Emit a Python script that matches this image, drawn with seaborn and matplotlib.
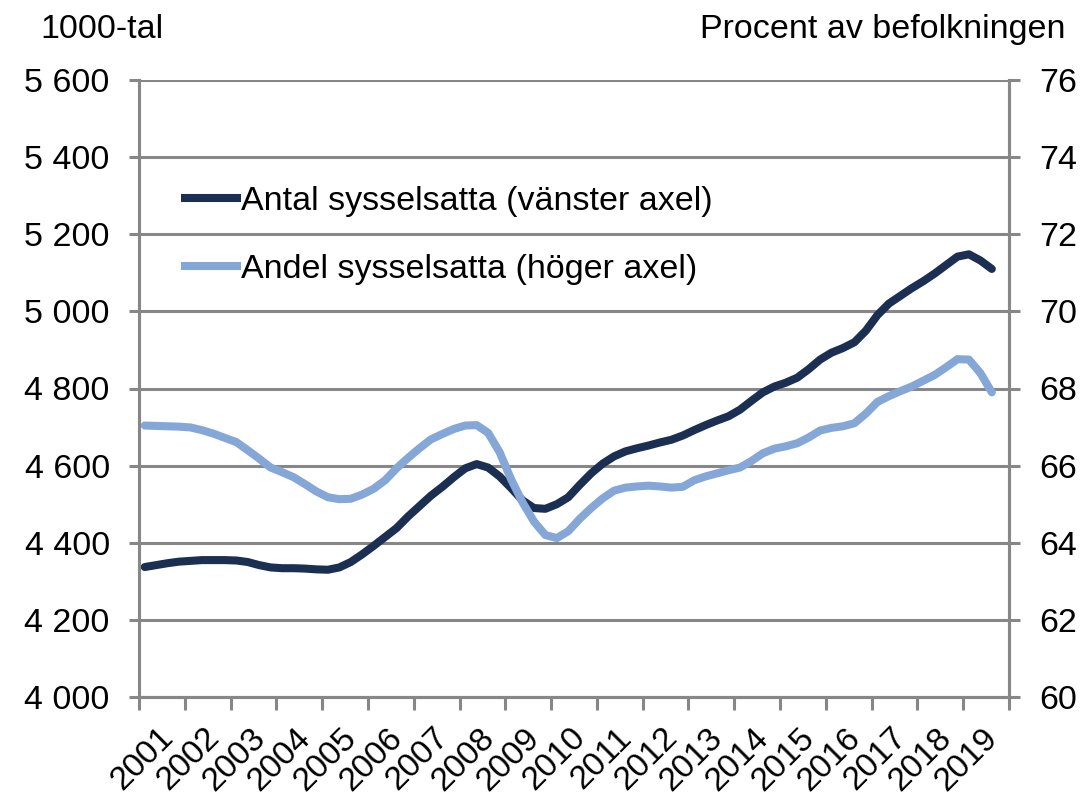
import numpy as np
import pandas as pd
import matplotlib
matplotlib.use("Agg")
import matplotlib.pyplot as plt
import seaborn as sns

# ---- data (quarterly, 2001Q1 .. 2019Q3) ----
years = [str(y) for y in range(2001, 2020)]
antal = [4337, 4342, 4347, 4351, 4353, 4355, 4355, 4355, 4354, 4350,
         4342, 4336, 4334, 4334, 4333, 4331, 4330, 4336, 4350, 4370,
         4392, 4415, 4438, 4468, 4495, 4522, 4545, 4570, 4593, 4604,
         4595, 4572, 4542, 4510, 4490, 4488, 4500, 4518, 4550, 4580,
         4605, 4624, 4637, 4645, 4652, 4660, 4667, 4678, 4692, 4705,
         4717, 4728, 4745, 4768, 4790, 4805, 4815, 4828, 4850, 4875,
         4893, 4905, 4920, 4950, 4990, 5020, 5040, 5060, 5078, 5098,
         5120, 5142, 5148, 5132, 5110]
andel = [67.04, 67.03, 67.02, 67.01, 66.99, 66.92, 66.83, 66.72, 66.61, 66.40,
         66.18, 65.95, 65.83, 65.70, 65.52, 65.33, 65.18, 65.13, 65.14, 65.25,
         65.40, 65.62, 65.93, 66.20, 66.45, 66.68, 66.82, 66.95, 67.04, 67.05,
         66.85, 66.35, 65.65, 65.05, 64.55, 64.20, 64.12, 64.30, 64.62, 64.90,
         65.15, 65.35, 65.43, 65.46, 65.48, 65.46, 65.43, 65.45, 65.62, 65.72,
         65.80, 65.88, 65.95, 66.12, 66.32, 66.44, 66.50, 66.58, 66.73, 66.91,
         66.98, 67.02, 67.10, 67.35, 67.65, 67.80, 67.93, 68.05, 68.20, 68.35,
         68.55, 68.76, 68.75, 68.40, 67.90]
left_ticks = [4000, 4200, 4400, 4600, 4800, 5000, 5200, 5400, 5600]
right_ticks = [60, 62, 64, 66, 68, 70, 72, 74, 76]
label_antal = "Antal sysselsatta (vänster axel)"
label_andel = "Andel sysselsatta (höger axel)"
left_title = "1000-tal"
right_title = "Procent av befolkningen"

dark = "#1B2F52"
light = "#84A7D8"
grid_c = "#878787"

df = pd.DataFrame({"q": np.arange(len(antal)) + 0.5, "antal": antal, "andel": andel})

sns.set_theme(style="white")
plt.rcParams["font.family"] = ["Liberation Sans", "DejaVu Sans"]
plt.rcParams["text.color"] = "black"
plt.rcParams["xtick.color"] = "black"
plt.rcParams["ytick.color"] = "black"

fig = plt.figure(figsize=(10.83, 7.96), dpi=100)
ax = fig.add_axes([139 / 1083, 1 - 697 / 796, (1009 - 139) / 1083, (697 - 80) / 796])
ax2 = ax.twinx()

sns.lineplot(data=df, x="q", y="antal", ax=ax, color=dark, linewidth=5.8,
             label=label_antal, legend=False)
sns.lineplot(data=df, x="q", y="andel", ax=ax2, color=light, linewidth=5.8,
             label=label_andel, legend=False)

nyears = len(years)
ax.set_xlim(0, nyears * 4)
ax.set_ylim(left_ticks[0], left_ticks[-1])
ax2.set_ylim(right_ticks[0], right_ticks[-1])
ax.set_yticks(left_ticks)
ax.set_yticklabels([f"{v:,}".replace(",", " ") for v in left_ticks])
ax2.set_yticks(right_ticks)
ax2.set_yticklabels([str(v) for v in right_ticks])

ax.set_xticks(np.arange(nyears) * 4 + 2.6)
ax.set_xticklabels(years, rotation=45, ha="right", va="center", rotation_mode="anchor")
ax.set_xticks(np.arange(nyears + 1) * 4, minor=True)
ax.tick_params(axis="x", which="major", length=0, pad=26, labelsize=24, labelcolor="black")
ax.tick_params(axis="x", which="minor", length=9, width=2.2, color=grid_c, direction="out", bottom=True)

ax.tick_params(axis="y", which="major", length=7, width=2.2, color=grid_c, direction="out",
               pad=14, labelsize=24.5, left=True, labelcolor="black")
ax2.tick_params(axis="y", which="major", length=8, width=2.2, color=grid_c, direction="out",
                pad=14, labelsize=24.5, right=True, labelcolor="black")

ax.set_xlabel("")
ax.set_ylabel("")
ax2.set_ylabel("")
ax.grid(True, axis="y", color=grid_c, linewidth=2.2)
ax.grid(False, axis="x")
ax2.grid(False)

for a in (ax, ax2):
    for side in ("left", "right", "bottom"):
        a.spines[side].set_color(grid_c)
        a.spines[side].set_linewidth(2.2)
    a.spines["top"].set_visible(False)

h1, l1 = ax.get_legend_handles_labels()
h2, l2 = ax2.get_legend_handles_labels()
leg = ax2.legend(h1 + h2, l1 + l2, loc="upper left", bbox_to_anchor=(0.033, 0.85),
                 frameon=False, fontsize=24.5, handlelength=1.75, handletextpad=0.0,
                 labelspacing=1.08, borderaxespad=0)
for line in leg.get_lines():
    line.set_solid_capstyle("butt")

fig.text(40 / 1083, 1 - 38 / 796, left_title, fontsize=24.5, ha="left", va="baseline")
fig.text(1066 / 1083, 1 - 38 / 796, right_title, fontsize=24.5, ha="right", va="baseline")

fig.savefig("out.png", dpi=100, facecolor="white")
